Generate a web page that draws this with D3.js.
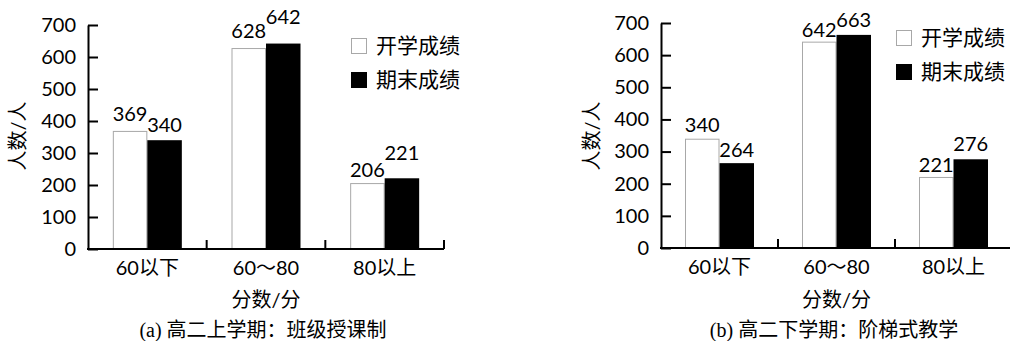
<!DOCTYPE html>
<meta charset="utf-8">
<style>
body { margin: 0; background: #fff; }
svg text { font-family: "Lato", "Noto Sans CJK SC", sans-serif; fill: #000; }
.axis path, .axis line { stroke: #000; stroke-width: 2px; }
</style>
<svg width="1010" height="341"></svg>
<script src="https://d3js.org/d3.v7.min.js"></script>
<script>

var categories = ["60以下", "60～80", "80以上"];
var seriesNames = ["开学成绩", "期末成绩"];
var yTicks = [0, 100, 200, 300, 400, 500, 600, 700];

var startA = [369, 628, 206];
var finalA = [340, 642, 221];
var startB = [340, 642, 221];
var finalB = [264, 663, 276];

// extra gap above bars for the value labels (as placed in the original)
var liftA = [[10, 10, 6], [8, 20, 18]];
var liftB = [[7, 5, 5], [6, 8, 8]];

var svg = d3.select("svg");

function drawChart(opt) {
  var g = svg.append("g").attr("transform", "translate(" + opt.left + ",0)");
  var w = opt.width;

  var x = d3.scaleBand().domain(categories).range([0, w]);
  var pad = (x.bandwidth() - 69) / 2;
  var x1 = d3.scaleBand().domain(seriesNames).range([pad, x.bandwidth() - pad]);
  var y = d3.scaleLinear().domain([0, 700]).range([opt.bottom, opt.top]);

  var series = [opt.start, opt.final];

  // bars
  series.forEach(function(vals, si) {
    g.append("g").selectAll("rect")
      .data(vals)
      .enter().append("rect")
        .attr("x", (d, i) => x(categories[i]) + x1(seriesNames[si]) + (si == 0 ? 0.5 : 0))
        .attr("y", d => y(d) + (si == 0 ? 0.5 : 0))
        .attr("width", x1.bandwidth() - (si == 0 ? 1 : 0))
        .attr("height", d => y(0) - y(d))
        .attr("fill", si == 0 ? "#fff" : "#000")
        .attr("stroke", si == 0 ? "#a8a8a8" : "none")
        .attr("stroke-width", 1);

    g.append("g").selectAll("text")
      .data(vals)
      .enter().append("text")
        .attr("x", (d, i) => x(categories[i]) + x1(seriesNames[si]) + x1.bandwidth() / 2)
        .attr("y", (d, i) => y(d) - opt.lift[si][i])
        .attr("text-anchor", "middle")
        .attr("font-size", 20)
        .text(d => d);
  });

  // y axis
  var yAxis = g.append("g").attr("class", "axis")
    .call(d3.axisLeft(y).tickValues(yTicks).tickSizeInner(-10).tickSizeOuter(0).tickPadding(12));
  yAxis.selectAll("text").attr("font-size", 20).attr("font-family", null);

  // x axis line with boundary ticks
  g.append("line").attr("class", "xline")
    .attr("x1", -1).attr("x2", w)
    .attr("y1", y(0)).attr("y2", y(0))
    .attr("stroke", "#000").attr("stroke-width", 2);
  g.append("g").selectAll("line")
    .data(categories)
    .enter().append("line")
      .attr("x1", d => x(d) + x.bandwidth())
      .attr("x2", d => x(d) + x.bandwidth())
      .attr("y1", y(0)).attr("y2", y(0) - 9)
      .attr("stroke", "#000").attr("stroke-width", 2);

  var xAxis = g.append("g").attr("transform", "translate(0," + y(0) + ")")
    .call(d3.axisBottom(x).tickSize(0).tickPadding(12));
  xAxis.select(".domain").remove();
  xAxis.selectAll("text").attr("font-size", 20).attr("font-family", null);

  // axis titles
  g.append("text")
    .attr("transform", "translate(" + (opt.ylabX - opt.left) + ",136) rotate(-90)")
    .attr("text-anchor", "middle")
    .attr("dy", "0.35em")
    .attr("font-size", 20)
    .text("人数/人");

  g.append("text")
    .attr("x", w / 2).attr("y", 307)
    .attr("text-anchor", "middle")
    .attr("font-size", 20)
    .text("分数/分");

  // caption
  var cap = g.append("text")
    .attr("x", opt.capX - opt.left).attr("y", 337)
    .attr("text-anchor", "middle")
    .attr("font-size", 20);
  cap.append("tspan").style("font-family", "'Liberation Serif', serif").text(opt.capTag + " ");
  cap.append("tspan").text(opt.caption);

  // legend
  var leg = g.append("g").attr("transform", "translate(" + (opt.legX - opt.left) + "," + opt.legY + ")");
  seriesNames.forEach(function(name, i) {
    leg.append("rect")
      .attr("x", 0.5).attr("y", i * 34 - 7.5)
      .attr("width", 15).attr("height", 15)
      .attr("fill", i == 0 ? "#fff" : "#000")
      .attr("stroke", i == 0 ? "#a8a8a8" : "#000");
    leg.append("text")
      .attr("x", 25).attr("y", i * 34)
      .attr("dy", "0.35em")
      .attr("font-size", 21)
      .text(name);
  });
}

drawChart({left: 88, width: 356, top: 25, bottom: 249,
  start: startA, final: finalA, lift: liftA,
  ylabX: 18, capX: 263, capTag: "(a)", caption: "高二上学期：班级授课制",
  legX: 351, legY: 46});

drawChart({left: 661, width: 351, top: 23, bottom: 248,
  start: startB, final: finalB, lift: liftB,
  ylabX: 592, capX: 834, capTag: "(b)", caption: "高二下学期：阶梯式教学",
  legX: 896, legY: 38});

</script>
